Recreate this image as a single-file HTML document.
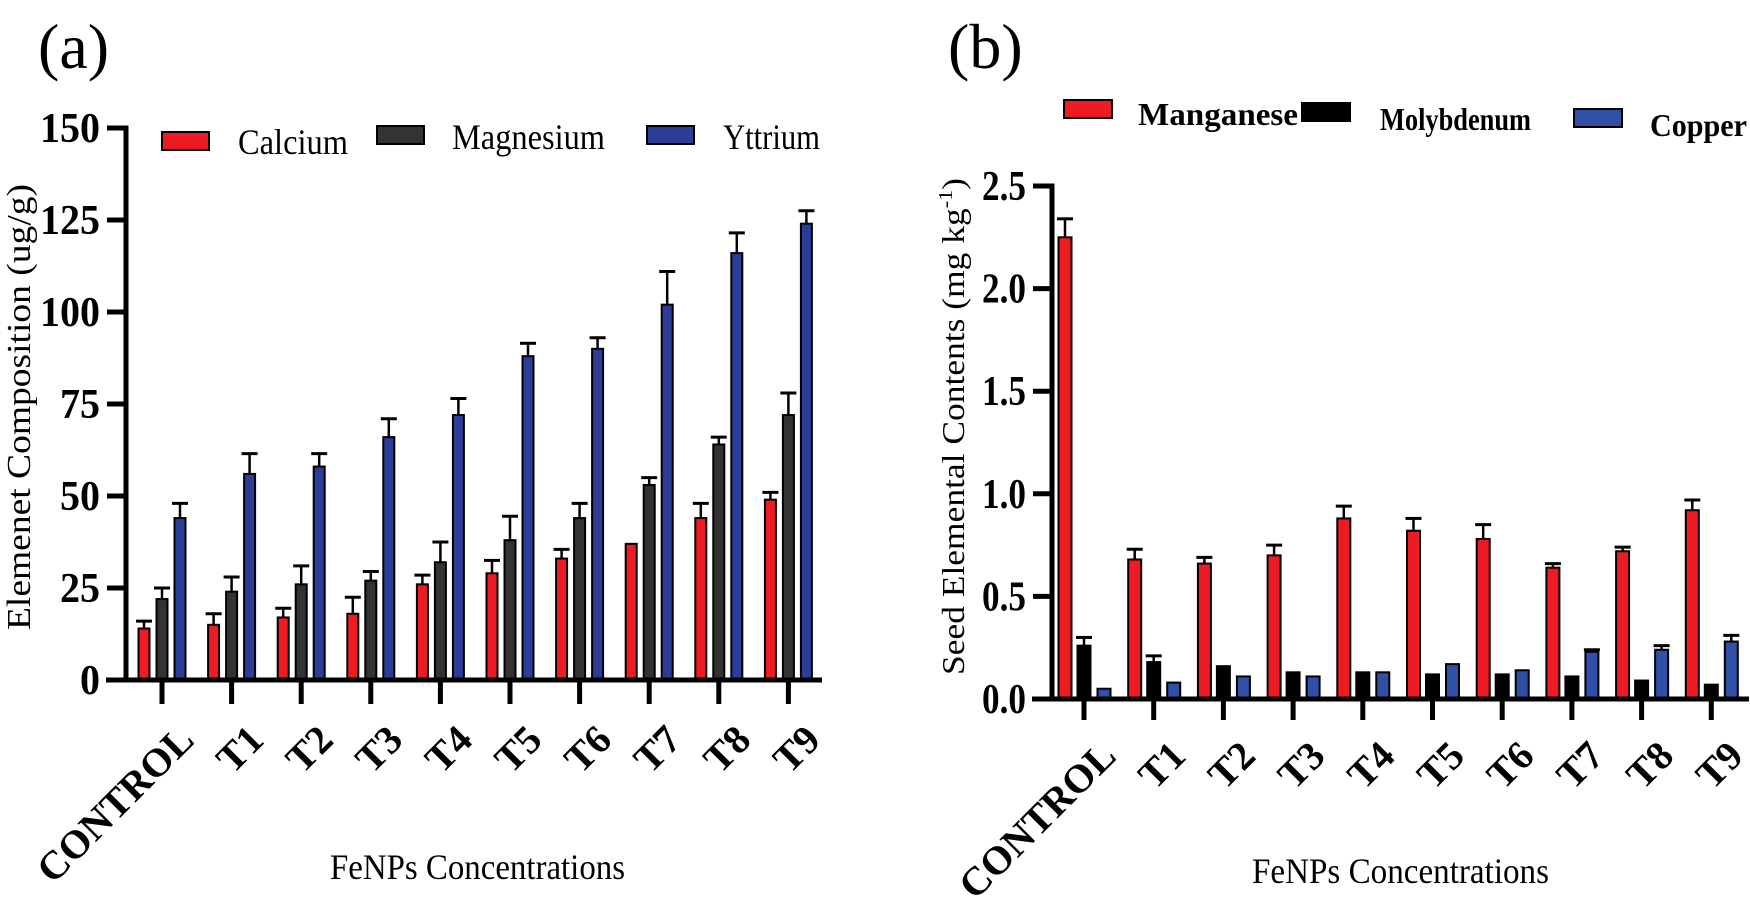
<!DOCTYPE html>
<html><head><meta charset="utf-8"><style>html,body{margin:0;padding:0;background:#fff}svg{display:block}text{font-family:"Liberation Serif",serif}</style></head>
<body>
<svg width="1750" height="909" viewBox="0 0 1750 909" xmlns="http://www.w3.org/2000/svg">
<rect width="1750" height="909" fill="#fff"/>
<g id="A"></g>
<g id="B"></g>
<script>
(function(){
const NS="http://www.w3.org/2000/svg";
function el(p,t,a,txt){const e=document.createElementNS(NS,t);for(const k in a)e.setAttribute(k,a[k]);if(txt!==undefined)e.textContent=txt;p.appendChild(e);return e;}
const cats=["CONTROL","T1","T2","T3","T4","T5","T6","T7","T8","T9"];
function panel(g,o){
  o.ticks.forEach((v,i)=>{const y=o.y0-v*o.s;
    el(g,"line",{x1:o.ax-19,x2:o.ax,y1:y,y2:y,stroke:"#000","stroke-width":5});
    const s=o.tl[i];
    el(g,"text",{x:o.ax-26-o.tw(s),y:y+14,"font-size":42,"font-weight":"bold",textLength:o.tw(s),lengthAdjust:"spacingAndGlyphs"},s);});
  o.data.forEach((row,ci)=>{const cx=o.c0+ci*o.sp;
    row.forEach((d,si)=>{const x=cx+o.off[si]-o.w/2;const top=o.y0-d[0]*o.s;
      if(d[1]>0){const ey=o.y0-(d[0]+d[1])*o.s;
        el(g,"line",{x1:x+o.w/2,x2:x+o.w/2,y1:top,y2:ey,stroke:"#000","stroke-width":2.5});
        el(g,"line",{x1:x+o.w/2-8,x2:x+o.w/2+8,y1:ey,y2:ey,stroke:"#000","stroke-width":3});}
      el(g,"rect",{x:x,y:top,width:o.w,height:d[0]*o.s,fill:o.col[si],stroke:"#000","stroke-width":2});
    });
    el(g,"line",{x1:cx,x2:cx,y1:o.y0,y2:o.tb,stroke:"#000","stroke-width":5});
    el(g,"text",{x:0,y:0,"text-anchor":"end","font-size":40,"font-weight":"bold",transform:`translate(${cx+34},${o.tb+38}) rotate(-45)`},cats[ci]);
  });
  el(g,"line",{x1:o.ax,x2:o.ax,y1:o.top-2.5,y2:o.y0+2.5,stroke:"#000","stroke-width":5});
  el(g,"line",{x1:o.ax-20,x2:o.xe,y1:o.y0,y2:o.y0,stroke:"#000","stroke-width":5});
}
const A=document.getElementById("A"),B=document.getElementById("B");
panel(A,{ax:126,top:128,y0:680,s:552/150,xe:822,ticks:[0,25,50,75,100,125,150],tl:["0","25","50","75","100","125","150"],
 tw:s=>s.length*20,
 c0:162,sp:69.6,w:11,off:[-18,0,18],tb:704,col:["#ed1c24","#333333","#2b3d96"],
 data:[[[14,2],[22,3],[44,4]],[[15,3],[24,4],[56,5.5]],[[17,2.5],[26,5],[58,3.5]],[[18,4.5],[27,2.5],[66,5]],[[26,2.5],[32,5.5],[72,4.5]],[[29,3.5],[38,6.5],[88,3.5]],[[33,2.5],[44,4],[90,3]],[[37,0],[53,2],[102,9]],[[44,4],[64,2],[116,5.5]],[[49,2],[72,6],[124,3.5]]]});
panel(B,{ax:1052,top:186,y0:699,s:513/2.5,xe:1749,ticks:[0,0.5,1,1.5,2,2.5],tl:["0.0","0.5","1.0","1.5","2.0","2.5"],
 tw:s=>44,
 c0:1084,sp:69.7,w:13,off:[-19,0,20],tb:720,col:["#ed1c24","#000000","#3050a8"],
 data:[[[2.25,0.09],[0.26,0.04],[0.05,0]],[[0.68,0.05],[0.18,0.03],[0.08,0]],[[0.66,0.03],[0.16,0],[0.11,0]],[[0.70,0.05],[0.13,0],[0.11,0]],[[0.88,0.06],[0.13,0],[0.13,0]],[[0.82,0.06],[0.12,0],[0.17,0]],[[0.78,0.07],[0.12,0],[0.14,0]],[[0.64,0.02],[0.11,0],[0.23,0.01]],[[0.72,0.02],[0.09,0],[0.24,0.02]],[[0.92,0.05],[0.07,0],[0.28,0.03]]]});
})();
</script>
<text x="38" y="68" font-size="64">(a)</text>
<text x="948" y="68" font-size="64">(b)</text>
<rect x="162" y="132" width="47" height="18" fill="#ed1c24" stroke="#000" stroke-width="2"/>
<text x="238" y="154" font-size="36" textLength="110" lengthAdjust="spacingAndGlyphs">Calcium</text>
<rect x="377" y="126" width="47" height="18" fill="#333" stroke="#000" stroke-width="2"/>
<text x="452" y="149" font-size="36" textLength="153" lengthAdjust="spacingAndGlyphs">Magnesium</text>
<rect x="647" y="126" width="47" height="18" fill="#2b3d96" stroke="#000" stroke-width="2"/>
<text x="723" y="149" font-size="36" textLength="97" lengthAdjust="spacingAndGlyphs">Yttrium</text>
<rect x="1064" y="100" width="48" height="18" fill="#ed1c24" stroke="#000" stroke-width="2"/>
<text x="1138" y="125" font-size="32" font-weight="bold" textLength="160" lengthAdjust="spacingAndGlyphs">Manganese</text>
<rect x="1302" y="103" width="48" height="18" fill="#000" stroke="#000" stroke-width="2"/>
<text x="1380" y="130" font-size="32" font-weight="bold" textLength="151" lengthAdjust="spacingAndGlyphs">Molybdenum</text>
<rect x="1574" y="109" width="48" height="18" fill="#3050a8" stroke="#000" stroke-width="2"/>
<text x="1650" y="136" font-size="32" font-weight="bold" textLength="97" lengthAdjust="spacingAndGlyphs">Copper</text>
<text transform="translate(30,407) rotate(-90)" x="-223" y="0" font-size="34" textLength="446" lengthAdjust="spacingAndGlyphs">Elemenet Composition (ug/g)</text>
<text transform="translate(964,427) rotate(-90)" x="-248" y="0" font-size="32" textLength="497" lengthAdjust="spacingAndGlyphs">Seed Elemental Contents (mg kg<tspan dy="-12" font-size="20">-1</tspan><tspan dy="12">)</tspan></text>
<text x="330" y="879" font-size="36" textLength="295" lengthAdjust="spacingAndGlyphs">FeNPs Concentrations</text>
<text x="1252" y="883" font-size="36" textLength="297" lengthAdjust="spacingAndGlyphs">FeNPs Concentrations</text>
</svg>
</body></html>
